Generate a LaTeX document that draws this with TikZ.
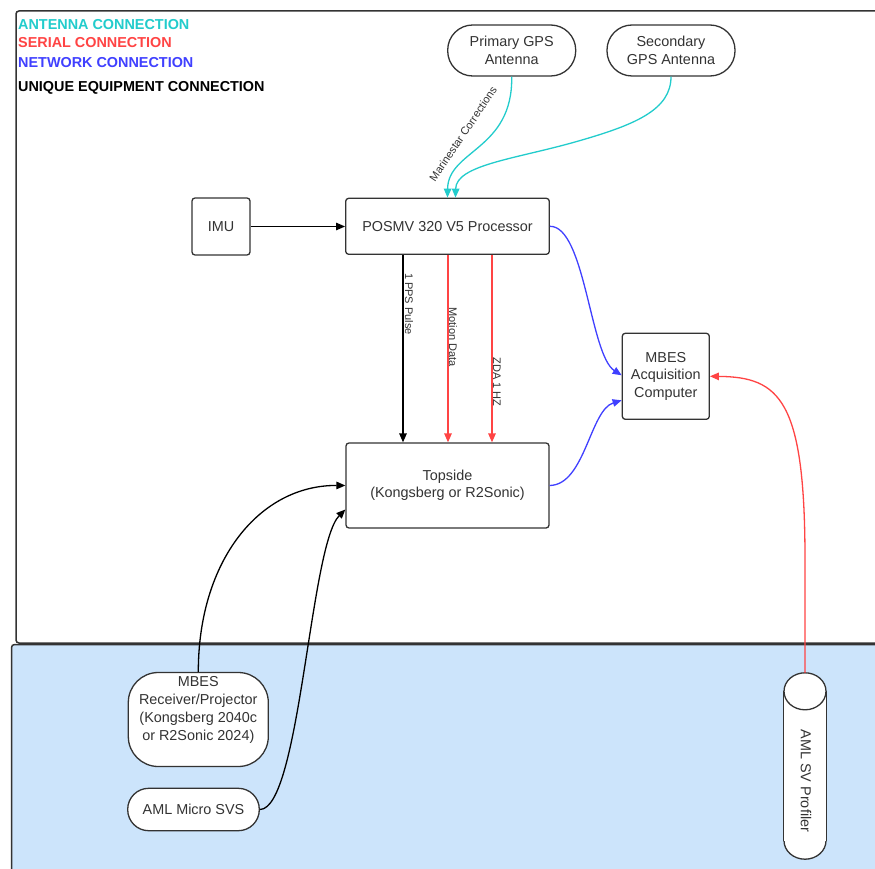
\documentclass[tikz,border=0pt]{standalone}
\usepackage{fontspec}
\setmainfont{Liberation Sans}
\usetikzlibrary{arrows.meta}
\definecolor{cyanc}{HTML}{22CCCC}
\definecolor{redc}{HTML}{FF4444}
\definecolor{bluec}{HTML}{4040FF}
\definecolor{txt}{HTML}{333333}
\definecolor{bord}{HTML}{333333}
\definecolor{water}{HTML}{CCE4FB}
\begin{document}
\begin{tikzpicture}[x=1pt,y=-1pt,
  nodebox/.style={draw=bord, line width=1.3pt, fill=white, rounded corners=3pt, align=center, text=txt, font=\fontsize{14.4}{17.5}\selectfont, inner sep=0pt},
  conn/.style={line width=1.3pt, -{Triangle[length=9pt,width=7.5pt]}},
  elab/.style={font=\fontsize{11}{13}\selectfont, text=txt, inner sep=0pt},
  legtext/.style={font=\fontsize{14.4}{17}\bfseries\selectfont, anchor=base west, inner sep=0pt}
]
\useasboundingbox (0,0) rectangle (875,869);
\clip (0,0) rectangle (875,869);
% regions
\draw[bord, line width=1.5pt, fill=white, rounded corners=3pt] (16,11) rectangle (900,643);
\draw[bord, line width=1.5pt, fill=water, rounded corners=3pt] (11.5,644.5) rectangle (900,900);
% legend
\node[legtext, text=cyanc] (l1) at (18,29.5) {ANTENNA CONNECTION};
\node[legtext, text=redc] (l2) at (18,48) {SERIAL CONNECTION};
\node[legtext, text=bluec] (l3) at (18,67.5) {NETWORK CONNECTION};
\node[legtext, text=black] (l4) at (18,91.5) {UNIQUE EQUIPMENT CONNECTION};
% nodes
\node[nodebox, rounded corners=25pt, minimum width=128pt, minimum height=51pt] (pgps) at (511.7,50.5) {Primary GPS\\Antenna};
\node[nodebox, rounded corners=25pt, minimum width=128pt, minimum height=51pt] (sgps) at (671,50.5) {Secondary\\GPS Antenna};
\node[nodebox, minimum width=58pt, minimum height=57pt] (imu) at (221,226.5) {IMU};
\node[nodebox, minimum width=203.6pt, minimum height=56pt] (posmv) at (447.5,226.3) {POSMV 320 V5 Processor};
\node[nodebox, minimum width=87pt, minimum height=86pt] (acq) at (665.8,376.3) {MBES\\Acquisition\\Computer};
\node[nodebox, minimum width=203pt, minimum height=85pt] (top) at (447.5,485.5) {Topside\\(Kongsberg or R2Sonic)};
\node[nodebox, rounded corners=30pt, minimum width=140pt, minimum height=94pt] (rx) at (198.3,719.5) {};
\node[align=center, text=txt, font=\fontsize{14.4}{18}\selectfont, inner sep=0pt] (rxt) at (198.3,710) {MBES\\Receiver/Projector\\(Kongsberg 2040c\\or R2Sonic 2024)};
\node[nodebox, rounded corners=21pt, minimum width=131.6pt, minimum height=42.4pt] (svs) at (193.5,809.5) {AML Micro SVS};
% cylinder
\node[minimum width=42pt, minimum height=186pt, inner sep=0pt] (svp) at (805,766) {};
\draw[bord, line width=1.3pt, fill=white] ([yshift=18.5pt]svp.south) ellipse [x radius=21pt, y radius=18.5pt];
\fill[white] ([yshift=-18.5pt]svp.north west) rectangle ([yshift=18.5pt]svp.south east);
\draw[bord, line width=1.3pt] ([yshift=-18.5pt]svp.north west) -- ([yshift=18.5pt]svp.south west);
\draw[bord, line width=1.3pt] ([yshift=-18.5pt]svp.north east) -- ([yshift=18.5pt]svp.south east);
\draw[bord, line width=1.3pt, fill=white] ([yshift=-18.5pt]svp.north) ellipse [x radius=21pt, y radius=18.5pt];
\node[rotate=-90, text=txt, font=\fontsize{14.4}{17.5}\selectfont, inner sep=0pt] (svpt) at (806,781) {AML SV Profiler};
% antenna connections
\draw[conn, cyanc] (pgps.south) .. controls (513,150) and (448,150) .. (posmv.north);
\draw[conn, cyanc] (sgps.south) .. controls (671,110) and (635,125) .. (575,142) .. controls (515,159) and (456,165) .. ([xshift=8pt]posmv.north);
\node[elab, rotate=56] (mc) at (463,134) {Marinestar Corrections};
% IMU
\draw[conn, black] (imu.east) -- (imu.east -| posmv.west);
% POSMV to Topside
\draw[conn, black] ([xshift=-44.5pt]posmv.south) -- ([xshift=-44.5pt]top.north);
\draw[conn, redc] ([xshift=0.5pt]posmv.south) -- ([xshift=0.5pt]top.north);
\draw[conn, redc] ([xshift=44.5pt]posmv.south) -- ([xshift=44.5pt]top.north);
\node[elab, rotate=-90] (pps) at (409,304) {1 PPS Pulse};
\node[elab, rotate=-90] (md) at (453,337) {Motion Data};
\node[elab, rotate=-90] (zda) at (497,382) {ZDA 1 HZ};
% network
\draw[conn, bluec] (posmv.east) .. controls (585,226) and (590,355) .. ([yshift=1pt]acq.west);
\draw[conn, bluec] (top.east) .. controls (585,485) and (590,410) .. ([yshift=-24pt]acq.west);
% serial from profiler
\draw[conn, redc] (svp.north) -- (805,560) .. controls (805,400) and (780,377) .. (acq.east);
% unique equipment
\draw[conn, black] (rx.north) .. controls (198.3,560) and (260,485) .. (top.west);
\draw[conn, black] (svs.east) .. controls (300,809) and (310,545) .. ([yshift=-24pt]top.west);
\end{tikzpicture}
\end{document}
